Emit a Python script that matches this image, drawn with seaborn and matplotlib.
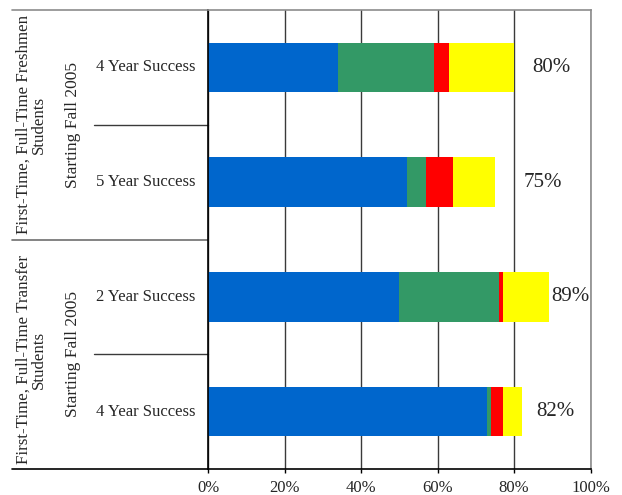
import numpy as np
import pandas as pd
import seaborn as sns
import matplotlib.pyplot as plt
from matplotlib.ticker import PercentFormatter

sns.set_style('white')
plt.rcParams['font.family'] = ['Liberation Serif', 'DejaVu Serif']

# data
bar_keys = ['fresh_4', 'fresh_5', 'transfer_2', 'transfer_4']
bar_labels = ['4 Year Success', '5 Year Success', '2 Year Success', '4 Year Success']
group_labels = ['First-Time, Full-Time Freshmen\nStudents',
                'First-Time, Full-Time Transfer\nStudents']
cohort_label = 'Starting Fall 2005'
blue = [34, 52, 50, 73]
green = [25, 5, 26, 1]
red = [4, 7, 1, 3]
yellow = [17, 11, 12, 5]
total_labels = ['80%', '75%', '89%', '82%']

# layout / style
label_x = [89.7, 87.6, 94.8, 90.9]
group_label_y = [0.5, 2.55]
colors = {'blue': '#0066CC', 'green': '#339966', 'red': '#FF0000', 'yellow': '#FFFF00'}

df = pd.DataFrame({'key': bar_keys, 'blue': blue, 'green': green,
                   'red': red, 'yellow': yellow})
df['c_blue'] = df['blue']
df['c_green'] = df['c_blue'] + df['green']
df['c_red'] = df['c_green'] + df['red']
df['c_yellow'] = df['c_red'] + df['yellow']

fig = plt.figure(figsize=(6.22, 4.95), dpi=100)
ax = fig.add_axes([208 / 622, 26 / 495, 382.7 / 622, 459 / 495])

# stacked bars: draw cumulative totals, longest first
for col in ['yellow', 'red', 'green', 'blue']:
    sns.barplot(data=df, x=f'c_{col}', y='key', order=bar_keys, orient='h',
                color=colors[col], saturation=1, width=0.43, errorbar=None,
                linewidth=0, ax=ax)

for i, (txt, xp) in enumerate(zip(total_labels, label_x)):
    ax.text(xp, i, txt, ha='center', va='center', fontsize=15)

ax.set(xlim=(0, 100), ylim=(3.5, -0.5), xlabel='', ylabel='',
       xticks=range(0, 101, 20))
ax.xaxis.set_major_formatter(PercentFormatter(100, decimals=0))
ax.set_yticks([])
ax.set_axisbelow(True)
ax.xaxis.grid(True, color='#3a3a3a', lw=1)
ax.yaxis.grid(False)
ax.tick_params(axis='x', direction='out', length=3, width=1, color='black',
               labelsize=12, pad=5, bottom=True)

for side in ['left', 'bottom']:
    ax.spines[side].set_color('black')
    ax.spines[side].set_linewidth(1.2)
for side in ['top', 'right']:
    ax.spines[side].set_color('#8c8c8c')
    ax.spines[side].set_linewidth(1.2)

# left-hand category table
tr = ax.get_yaxis_transform()
ax.plot([-0.512, 0], [-0.5, -0.5], transform=tr, clip_on=False, color='#8c8c8c', lw=1.2)
ax.plot([-0.512, 0], [1.5, 1.5], transform=tr, clip_on=False, color='#6e6e6e', lw=1.2)
ax.plot([-0.512, 0], [3.5, 3.5], transform=tr, clip_on=False, color='black', lw=1.2)
for y in [0.5, 2.5]:
    ax.plot([-0.298, 0], [y, y], transform=tr, clip_on=False, color='#3a3a3a', lw=1)

for i, lab in enumerate(bar_labels):
    ax.text(-0.163, i, lab, transform=tr, ha='center', va='center', fontsize=12)

for g, lab in enumerate(group_labels):
    ax.text(-0.354, 2 * g + 0.5, cohort_label, transform=tr, rotation=90,
            ha='center', va='center', fontsize=12.5)
    ax.text(-0.462, group_label_y[g], lab, transform=tr, rotation=90, ha='center',
            va='center', fontsize=12.2, multialignment='center', linespacing=1.0)

fig.savefig('out.png', dpi=100)
